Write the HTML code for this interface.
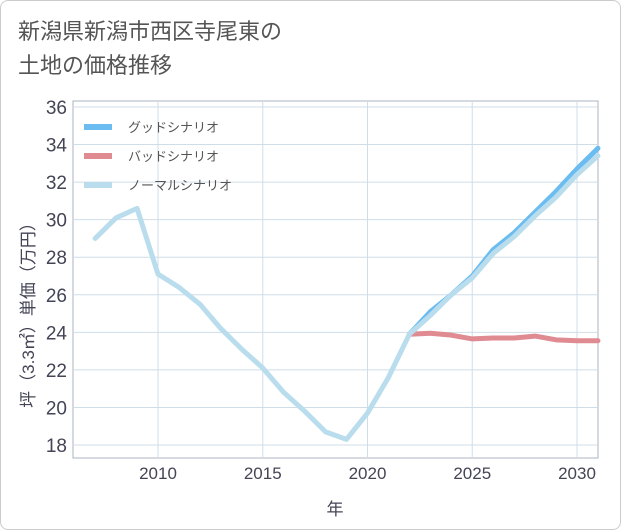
<!DOCTYPE html>
<html><head><meta charset="utf-8"><style>
body{margin:0;background:#fff;font-family:"Liberation Sans","Noto Sans CJK JP",sans-serif;}
#wrap{position:relative;width:619px;height:528px;border:1px solid #ccc;border-radius:8px;background:#fff;}
#title{position:absolute;left:17px;top:14px;font-size:22px;line-height:34px;color:#555;}
svg{position:absolute;left:0;top:0;}
</style></head><body>
<div id="wrap">
<div id="title">新潟県新潟市西区寺尾東の<br>土地の価格推移</div>
<svg id="c" width="621" height="530"></svg>
</div>
<script>
const years=[2007,2008,2009,2010,2011,2012,2013,2014,2015,2016,2017,2018,2019,2020,2021,2022,2023,2024,2025,2026,2027,2028,2029,2030,2031];
const normal=[29.0,30.1,30.6,27.1,26.4,25.5,24.2,23.1,22.1,20.8,19.8,18.7,18.3,19.7,21.6,23.9,24.9,26.0,26.9,28.2,29.1,30.2,31.2,32.4,33.4];
const fyears=[2022,2023,2024,2025,2026,2027,2028,2029,2030,2031];
const good=[23.9,25.1,26.0,27.0,28.4,29.3,30.4,31.5,32.7,33.8];
const bad=[23.9,23.95,23.85,23.65,23.7,23.7,23.8,23.6,23.55,23.55];
const yTicks=[18,20,22,24,26,28,30,32,34,36];
const xTicks=[2010,2015,2020,2025,2030];
const L=72,R=597,T=100,B=457;
const X=v=>157+(v-2010)*(576-157)/20;
const Y=v=>444-(v-18)*(444-106)/18;
const s=document.getElementById('c');const NS='http://www.w3.org/2000/svg';
function mk(t,a,p){const e=document.createElementNS(NS,t);for(const k in a)e.setAttribute(k,a[k]);(p||s).appendChild(e);return e;}
let e=mk('rect',{x:L,y:T,width:R-L,height:B-T,fill:'#fff',stroke:'#aab4c0'});


yTicks.forEach(v=>{let g=mk('line',{x1:L,x2:R,y1:Y(v),y2:Y(v),stroke:'#cfdde8'});


let t=mk('text',{x:L-6,y:Y(v)+7,'text-anchor':'end','font-size':19,fill:'#445'});t.textContent=v;

});
xTicks.forEach(v=>{let g=mk('line',{x1:X(v),x2:X(v),y1:T,y2:B,stroke:'#cfdde8'});


let t=mk('text',{x:X(v),y:B+21,'text-anchor':'middle','font-size':17,fill:'#445'});t.textContent=v;

});
function line(xs,ys,c,n){let p=mk('polyline',{points:xs.map((x,i)=>X(x)+','+Y(ys[i])).join(' '),fill:'none',stroke:c,'stroke-width':5,'stroke-linejoin':'round','stroke-linecap':'round'});

}
line(fyears,good,'#6bbcf0','good-scenario-line');
line(fyears,bad,'#e08a92','bad-scenario-line');
line(years,normal,'#b9dded','normal-scenario-line');
const leg=[['グッドシナリオ','#6bbcf0'],['バッドシナリオ','#e08a92'],['ノーマルシナリオ','#b9dded']];
leg.forEach((l,i)=>{let y=126+i*29;let r=mk('line',{x1:83,x2:111,y1:y,y2:y,stroke:l[1],'stroke-width':6});


let t=mk('text',{x:127,y:y+5,'font-size':13,fill:'#555'});t.textContent=l[0];

});
let xt=mk('text',{x:334,y:514,'text-anchor':'middle','font-size':17,fill:'#445'});xt.textContent='年';


let yt=mk('text',{x:0,y:0,'text-anchor':'middle','font-size':17,fill:'#445',transform:'translate(33,310) rotate(-90)'});yt.textContent='坪（3.3㎡）単価（万円）';


</script>
</body></html>
